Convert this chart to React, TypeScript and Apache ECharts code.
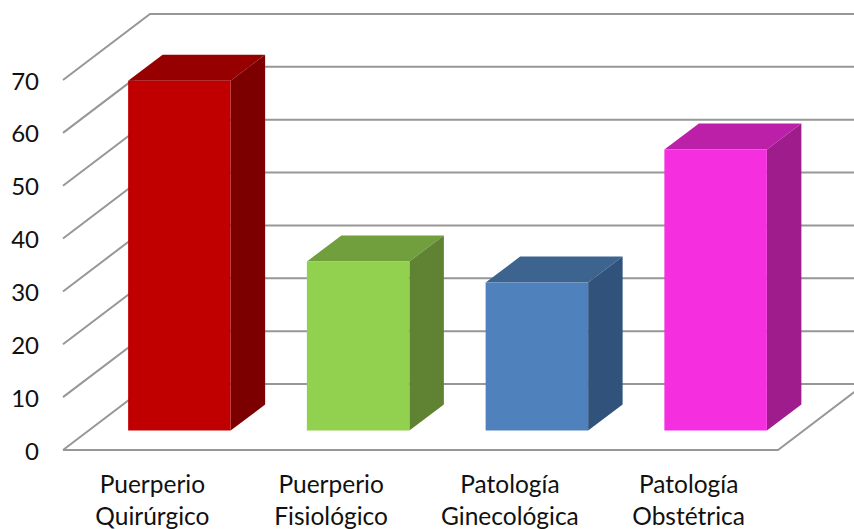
import React, { useEffect, useRef } from "react";
import * as echarts from "echarts";

const categories = [
  "Puerperio\nQuirúrgico",
  "Puerperio\nFisiológico",
  "Patología\nGinecológica",
  "Patología\nObstétrica",
];
const values = [66.2, 32, 28, 53.2];
const frontColors = ["#C00000", "#92D050", "#4F81BD", "#F52EE0"];
const topColors = ["#960000", "#719F3E", "#3D648F", "#BC20A8"];
const sideColors = ["#7C0000", "#5F8233", "#31527B", "#9E1C8C"];
const gridTicks = [0, 10, 20, 30, 40, 50, 60, 70];

// Oblique projection of the box: wall depth and bar depth, in pixels.
const WALL_DX = 87;
const WALL_DY = 66;
const BAR_SHIFT_X = 27;
const BAR_SHIFT_Y = 19.4;
const BAR_DX = 34.5;
const BAR_DY = 26;
const BAR_WIDTH = 102.5;
const LINE_COLOR = "#979797";

const FONT = "Lato, Carlito, Calibri, sans-serif";

export default function App() {
  const ref = useRef<HTMLDivElement>(null);

  useEffect(() => {
    const chart = echarts.init(ref.current!, undefined, { renderer: "svg" });

    const renderWall = (params: any, api: any) => {
      const value = api.value(0);
      const cs = params.coordSys;
      const y = api.coord([0, value])[1];
      const left = cs.x;
      const right = cs.x + cs.width;
      const style = { stroke: LINE_COLOR, lineWidth: 2, fill: "none" };
      const children: any[] = [
        {
          type: "polyline",
          shape: {
            points: [
              [left, y],
              [left + WALL_DX, y - WALL_DY],
              [right + WALL_DX, y - WALL_DY],
            ],
          },
          style,
        },
      ];
      if (value === 0) {
        // Floor: front edge and right-hand edge.
        children.push({
          type: "polyline",
          shape: {
            points: [
              [left, y],
              [right, y],
              [right + WALL_DX, y - WALL_DY],
            ],
          },
          style,
        });
      }
      return { type: "group", children };
    };

    const renderBox = (_params: any, api: any) => {
      const idx = api.value(0);
      const top = api.coord([idx, api.value(1)]);
      const base = api.coord([idx, 0]);
      const x0 = top[0] + BAR_SHIFT_X - BAR_WIDTH / 2;
      const x1 = x0 + BAR_WIDTH;
      const yTop = top[1] - BAR_SHIFT_Y;
      const yBase = base[1] - BAR_SHIFT_Y;
      return {
        type: "group",
        children: [
          {
            type: "polygon",
            shape: {
              points: [
                [x0, yTop],
                [x0 + BAR_DX, yTop - BAR_DY],
                [x1 + BAR_DX, yTop - BAR_DY],
                [x1, yTop],
              ],
            },
            style: { fill: topColors[idx] },
          },
          {
            type: "polygon",
            shape: {
              points: [
                [x1, yTop],
                [x1 + BAR_DX, yTop - BAR_DY],
                [x1 + BAR_DX, yBase - BAR_DY],
                [x1, yBase],
              ],
            },
            style: { fill: sideColors[idx] },
          },
          {
            type: "rect",
            shape: { x: x0, y: yTop, width: BAR_WIDTH, height: yBase - yTop },
            style: { fill: frontColors[idx] },
          },
        ],
      };
    };

    chart.setOption({
      animation: false,
      backgroundColor: "#ffffff",
      grid: { left: 63, right: 76, top: 80, bottom: 79, outerBoundsMode: "none" },
      xAxis: {
        type: "category",
        data: categories,
        axisLine: { show: false },
        axisTick: { show: false },
        axisLabel: {
          color: "#111111",
          fontFamily: FONT,
          fontSize: 24.5,
          lineHeight: 32,
          margin: 17,
          interval: 0,
          hideOverlap: false,
        },
      },
      yAxis: {
        type: "value",
        min: 0,
        max: 70,
        interval: 10,
        axisLine: { show: false },
        axisTick: { show: false },
        splitLine: { show: false },
        axisLabel: {
          color: "#111111",
          fontFamily: FONT,
          fontSize: 24,
          margin: 24,
        },
      },
      series: [
        {
          type: "custom",
          renderItem: renderWall,
          data: gridTicks.map((v) => [v]),
          encode: { y: 0 },
          silent: true,
          z: 1,
        },
        {
          type: "custom",
          renderItem: renderBox,
          data: values.map((v, i) => [i, v]),
          encode: { x: 0, y: 1 },
          silent: true,
          z: 2,
        },
      ],
    });

    return () => chart.dispose();
  }, []);

  return (
    <div
      ref={ref}
      style={{ position: "absolute", left: 0, top: 0, width: 854, height: 529 }}
    />
  );
}
